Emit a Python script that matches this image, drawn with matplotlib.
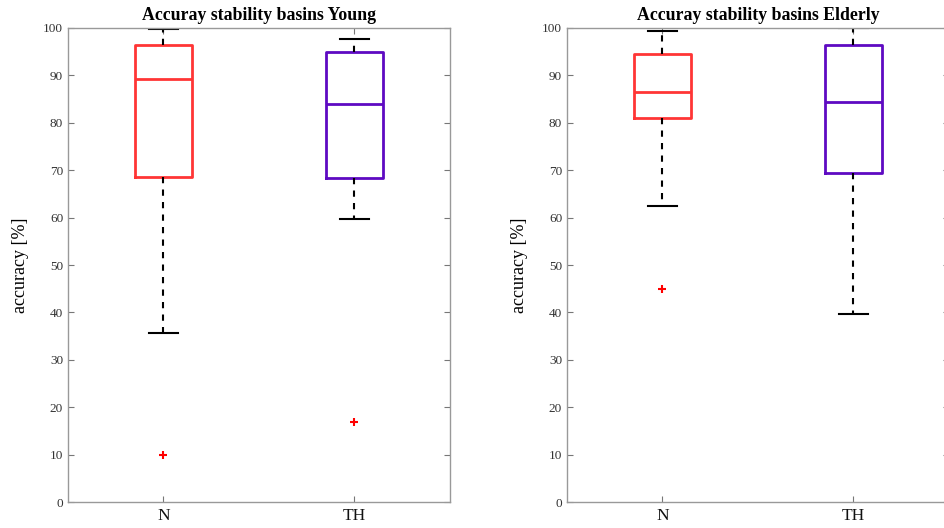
import matplotlib.pyplot as plt

plt.rcParams['font.family'] = ['Liberation Serif', 'DejaVu Serif']

groups = ["N", "TH"]
colors = ["#ff3535", "#5e0ac2"]

# Young: whisker low, Q1, median, Q3, whisker high, outliers
young_lo = [35.7, 59.7]
young_q1 = [68.5, 68.4]
young_med = [89.3, 84.0]
young_q3 = [96.4, 94.9]
young_hi = [99.8, 97.7]
young_out = [[9.9], [17.0]]

# Elderly
elder_lo = [62.4, 39.7]
elder_q1 = [81.0, 69.4]
elder_med = [86.5, 84.4]
elder_q3 = [94.5, 96.4]
elder_hi = [99.4, 100.0]
elder_out = [[44.9], []]

yticks = list(range(0, 101, 10))


def make_stats(lo, q1, med, q3, hi, out):
    stats = []
    for i in range(len(groups)):
        stats.append(dict(whislo=lo[i], q1=q1[i], med=med[i], q3=q3[i],
                          whishi=hi[i], fliers=out[i], label=groups[i]))
    return stats


fig = plt.figure(figsize=(9.45, 5.28), dpi=100)
ax1 = fig.add_axes([0.072, 0.049, 0.404, 0.898])
ax2 = fig.add_axes([0.600, 0.049, 0.404, 0.898])

panels = [
    (ax1, make_stats(young_lo, young_q1, young_med, young_q3, young_hi, young_out),
     "Accuray stability basins Young"),
    (ax2, make_stats(elder_lo, elder_q1, elder_med, elder_q3, elder_hi, elder_out),
     "Accuray stability basins Elderly"),
]

for ax, stats, title in panels:
    bp = ax.bxp(stats, positions=[1, 2], widths=0.30, capwidths=0.15,
                whiskerprops=dict(color="black", linestyle=(0, (3, 3)), linewidth=1.5),
                capprops=dict(color="black", linewidth=1.5),
                flierprops=dict(marker="+", markeredgecolor="red", markersize=6,
                                markeredgewidth=1.5),
                boxprops=dict(linewidth=2),
                medianprops=dict(linewidth=2))
    for i, c in enumerate(colors):
        bp["boxes"][i].set_color(c)
        bp["medians"][i].set_color(c)
    ax.set_xlim(0.5, 2.5)
    ax.set_ylim(0, 100)
    ax.set_yticks(yticks)
    ax.set_xticks([1, 2])
    ax.set_xticklabels(groups, fontsize=12.5, color="#111111")
    ax.tick_params(axis="y", labelsize=9.5, labelcolor="#333333")
    ax.tick_params(direction="in", top=True, right=True, length=4,
                   color="#777777", width=0.8)
    ax.tick_params(axis="x", pad=4)
    for s in ax.spines.values():
        s.set_color("#999999")
        s.set_linewidth(1.0)
    ax.set_ylabel("accuracy [%]", fontsize=13, labelpad=10)
    ax.set_title(title, fontsize=12.8, fontweight="bold", pad=6)

fig.savefig("out.png", dpi=100)
